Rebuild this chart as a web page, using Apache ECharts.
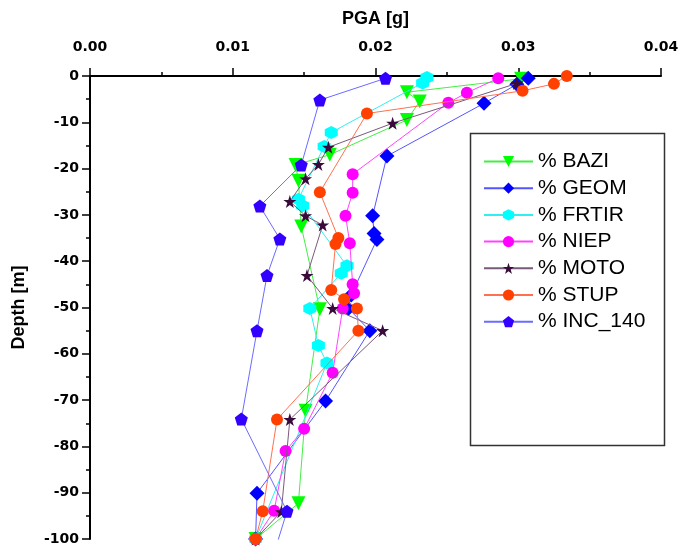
<!DOCTYPE html>
<html>
<head>
<meta charset="utf-8">
<script src="https://cdn.jsdelivr.net/npm/echarts@6/dist/echarts.min.js"></script>
<style>
html,body{margin:0;padding:0;background:#fff;}
#chart{width:680px;height:547px;}
</style>
</head>
<body>
<div id="chart"></div>
<script>
// ---- data (PGA [g], depth [m]) ----
const seriesNames = ['% BAZI', '% GEOM', '% FRTIR', '% NIEP', '% MOTO', '% STUP', '% INC_140'];

const baziPGA   = [0.0302, 0.0222, 0.0231, 0.0222, 0.0168, 0.0144, 0.0146, 0.0148, 0.0161, 0.0151, 0.0146, 0.0116];
const baziDepth = [-0.6, -3.5, -5.5, -9.5, -17, -19.2, -22.6, -32.5, -50.4, -72.3, -92.3, -100];

const geomPGA   = [0.0307, 0.0299, 0.0276, 0.0208, 0.0198, 0.0199, 0.0201, 0.0183, 0.0181, 0.0196, 0.0165, 0.0117, 0.0116];
const geomDepth = [-0.5, -1.8, -5.9, -17.3, -30.2, -34, -35.3, -47.3, -50.2, -55, -70.2, -90.1, -100];

const frtirPGA   = [0.0236, 0.0233, 0.0169, 0.0164, 0.0146, 0.0149, 0.0180, 0.0176, 0.0154, 0.0160, 0.0166, 0.0116];
const frtirDepth = [-0.3, -1.5, -12.2, -15.2, -26.6, -28, -41, -42.6, -50.2, -58.2, -62, -100];

const niepPGA   = [0.0286, 0.0264, 0.0251, 0.0184, 0.0184, 0.0179, 0.0182, 0.0184, 0.0185, 0.0177, 0.0170, 0.0150, 0.0137, 0.0129, 0.0116];
const niepDepth = [-0.5, -3.6, -5.8, -21.2, -25.2, -30.2, -36.1, -45, -46.9, -50.2, -64.1, -76.2, -81, -93.9, -100];

const motoPGA   = [0.0299, 0.0212, 0.0167, 0.0160, 0.0151, 0.0140, 0.0151, 0.0163, 0.0152, 0.0170, 0.0205, 0.0140, 0.0134, 0.0116];
const motoDepth = [-1.6, -10.2, -15.4, -19.1, -22.2, -27.1, -30.2, -32.2, -43.1, -50.2, -55, -74.2, -94.1, -100];

const stupPGA   = [0.0334, 0.0325, 0.0303, 0.0194, 0.0161, 0.0174, 0.0172, 0.0169, 0.0178, 0.0187, 0.0188, 0.0131, 0.0121, 0.0116];
const stupDepth = [0, -1.7, -3.2, -8.1, -25.1, -35, -36.3, -46.2, -48.2, -50.2, -55, -74.2, -94, -100];

const incPGA   = [0.0207, 0.0161, 0.0148, 0.0119, 0.0133, 0.0124, 0.0117, 0.0106, 0.0138, 0.0122];
const incDepth = [-0.5, -5.2, -19.2, -28.1, -35.2, -43.1, -55, -74.1, -94, -110];

// ---- styling ----
const FONT = '"Liberation Sans", Arial, sans-serif';
const BFONT = '"DejaVu Sans", sans-serif';
const HEX = 'path://M0,-1 L0.866,-0.5 L0.866,0.5 L0,1 L-0.866,0.5 L-0.866,-0.5 Z';
const PENT = 'path://M0,-1 L0.951,-0.309 L0.588,0.809 L-0.588,0.809 L-0.951,-0.309 Z';
const STAR = 'path://M0,-1 L0.2245,-0.309 L0.951,-0.309 L0.363,0.118 L0.588,0.809 L0,0.382 L-0.588,0.809 L-0.363,0.118 L-0.951,-0.309 L-0.2245,-0.309 Z';

const styles = [
  {sym: 'triangle', rot: 180, size: 14, mk: '#00ff00', ln: '#44ee44'},
  {sym: 'diamond',  rot: 0,   size: 15, mk: '#0000ff', ln: '#5555ff'},
  {sym: HEX,        rot: 0,   size: 13, mk: '#00ffff', ln: '#33eeee'},
  {sym: 'circle',   rot: 0,   size: 12, mk: '#ff00ff', ln: '#ff44ff'},
  {sym: STAR,       rot: 0,   size: 13, mk: '#3a0a3a', ln: '#7a5a7a'},
  {sym: 'circle',   rot: 0,   size: 12, mk: '#ff4000', ln: '#ff7050'},
  {sym: PENT,       rot: 0,   size: 13, mk: '#3300ff', ln: '#6b6bff'}
];

const pgaLists = [baziPGA, geomPGA, frtirPGA, niepPGA, motoPGA, stupPGA, incPGA];
const depthLists = [baziDepth, geomDepth, frtirDepth, niepDepth, motoDepth, stupDepth, incDepth];

const series = seriesNames.map((name, i) => ({
  name: name,
  type: 'line',
  data: pgaLists[i].map((v, j) => [v, depthLists[i][j]]),
  symbol: styles[i].sym,
  symbolSize: styles[i].size,
  symbolRotate: styles[i].rot,
  showAllSymbol: true,
  clip: true,
  itemStyle: {color: styles[i].mk, borderWidth: 0},
  lineStyle: {color: styles[i].ln, width: 1},
  emphasis: {disabled: true},
  animation: false,
  z: 2 + i
}));

const chart = echarts.init(document.getElementById('chart'), null, {renderer: 'canvas'});
chart.setOption({
  backgroundColor: '#ffffff',
  animation: false,
  grid: {left: 90, right: 19, top: 76, bottom: 8, containLabel: false, outerBoundsMode: 'none'},
  xAxis: {
    type: 'value',
    position: 'top',
    min: 0, max: 0.04, interval: 0.01,
    name: 'PGA [g]',
    nameLocation: 'middle',
    nameGap: 48,
    nameTextStyle: {fontFamily: FONT, fontWeight: 'bold', fontSize: 18, color: '#000'},
    axisLine: {show: true, onZero: false, lineStyle: {color: '#000', width: 2}},
    axisTick: {show: true, inside: false, length: 8, lineStyle: {color: '#000', width: 1.5}},
    minorTick: {show: true, splitNumber: 2, length: 4, lineStyle: {color: '#000', width: 1.5}},
    axisLabel: {fontFamily: BFONT, fontWeight: 'bold', fontSize: 14, color: '#000', margin: 22,
                formatter: v => v.toFixed(2)},
    splitLine: {show: false}
  },
  yAxis: {
    type: 'value',
    min: -100, max: 0, interval: 10,
    name: 'Depth [m]',
    nameLocation: 'middle',
    nameGap: 62,
    nameRotate: 90,
    nameTextStyle: {fontFamily: FONT, fontWeight: 'bold', fontSize: 18, color: '#000'},
    axisLine: {show: true, onZero: false, lineStyle: {color: '#000', width: 2}},
    axisTick: {show: true, inside: false, length: 8, lineStyle: {color: '#000', width: 1.5}},
    minorTick: {show: true, splitNumber: 2, length: 4, lineStyle: {color: '#000', width: 1.5}},
    axisLabel: {fontFamily: BFONT, fontWeight: 'bold', fontSize: 14, color: '#000', margin: 11},
    splitLine: {show: false}
  },
  legend: {
    orient: 'vertical',
    left: 483,
    top: 151,
    itemWidth: 49,
    itemHeight: 14,
    itemGap: 5.7,
    padding: 0,
    data: seriesNames,
    textStyle: {fontFamily: FONT, fontSize: 21, color: '#000', padding: [0, 0, 0, 0]},
    selectedMode: false
  },
  graphic: [{
    type: 'rect',
    left: 468, top: 131,
    shape: {width: 194, height: 312},
    style: {fill: 'none', stroke: '#333', lineWidth: 1.5},
    z: 100, silent: true
  }],
  series: series
});
</script>
</body>
</html>
